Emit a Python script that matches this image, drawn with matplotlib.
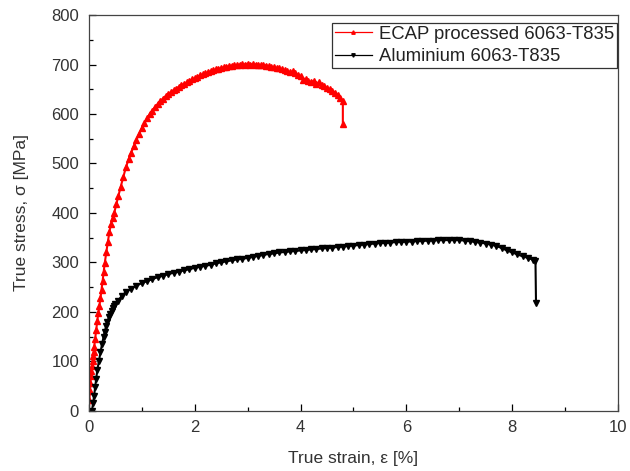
import numpy as np
import matplotlib.pyplot as plt
from matplotlib.ticker import MultipleLocator

plt.rcParams['font.family'] = ['Liberation Sans', 'DejaVu Sans']

# ECAP processed 6063-T835 (strain %, stress MPa)
ecap_strain = [0.00, 0.01, 0.02, 0.03, 0.04, 0.05, 0.06, 0.07, 0.08, 0.09, 0.10, 0.12,
               0.14, 0.16, 0.18, 0.20, 0.22, 0.24, 0.26, 0.28, 0.30, 0.33, 0.36, 0.39,
               0.42, 0.45, 0.48, 0.52, 0.56, 0.60, 0.65, 0.70, 0.75, 0.80, 0.85, 0.90,
               0.95, 1.00, 1.05, 1.10, 1.15, 1.20, 1.25, 1.30, 1.35, 1.40, 1.45, 1.50,
               1.55, 1.60, 1.65, 1.70, 1.75, 1.80, 1.85, 1.90, 1.95, 2.00, 2.05, 2.10,
               2.15, 2.20, 2.25, 2.30, 2.35, 2.40, 2.45, 2.50, 2.55, 2.60, 2.65, 2.70,
               2.75, 2.80, 2.85, 2.90, 2.95, 3.00, 3.05, 3.10, 3.15, 3.20, 3.25, 3.30,
               3.35, 3.40, 3.45, 3.50, 3.55, 3.60, 3.65, 3.70, 3.75, 3.80, 3.85, 3.90,
               3.95, 4.00, 4.05, 4.10, 4.15, 4.20, 4.25, 4.30, 4.35, 4.40, 4.45, 4.50,
               4.55, 4.60, 4.65, 4.70, 4.75, 4.80, 4.80]
ecap_stress = [0, 22, 40, 56, 70, 80, 90, 100, 110, 119, 128, 146,
               164, 182, 198, 212, 228, 245, 262, 280, 298, 320, 342, 362,
               378, 390, 400, 418, 435, 452, 472, 492, 508, 522, 535, 548,
               560, 571, 581, 591, 600, 607, 614, 620, 626, 631, 636, 640,
               644, 648, 651, 655, 658, 661, 664, 667, 670, 672, 675, 678,
               680, 682, 684, 686, 688, 690, 691, 693, 694, 695, 697, 698,
               699, 699, 700, 701, 700, 702, 700, 701, 700, 700, 699, 699,
               698, 697, 696, 694, 693, 692, 690, 688, 686, 684, 686, 682,
               679, 676, 669, 671, 667, 664, 667, 661, 664, 658, 656, 652,
               650, 647, 643, 639, 633, 626, 580]

# Aluminium 6063-T835
al_strain = [0.06, 0.08, 0.10, 0.12, 0.14, 0.16, 0.19, 0.22, 0.25, 0.28, 0.30, 0.33,
             0.35, 0.38, 0.40, 0.43, 0.45, 0.48, 0.50, 0.55, 0.62, 0.70, 0.80, 0.90,
             1.00, 1.10, 1.20, 1.30, 1.40, 1.50, 1.60, 1.70, 1.80, 1.90, 2.00, 2.10,
             2.20, 2.30, 2.40, 2.50, 2.60, 2.70, 2.80, 2.90, 3.00, 3.10, 3.20, 3.30,
             3.40, 3.50, 3.60, 3.70, 3.80, 3.90, 4.00, 4.10, 4.20, 4.30, 4.40, 4.50,
             4.60, 4.70, 4.80, 4.90, 5.00, 5.10, 5.20, 5.30, 5.40, 5.50, 5.60, 5.70,
             5.80, 5.90, 6.00, 6.10, 6.20, 6.30, 6.40, 6.50, 6.60, 6.70, 6.80, 6.90,
             7.00, 7.10, 7.20, 7.30, 7.40, 7.50, 7.60, 7.70, 7.80, 7.90, 8.00, 8.10,
             8.20, 8.30, 8.40, 8.44, 8.45]
al_stress = [0, 15, 30, 48, 65, 82, 100, 118, 135, 150, 160, 172,
             180, 189, 195, 202, 207, 212, 215, 222, 232, 240, 247, 253,
             258, 262, 266, 270, 273, 276, 279, 281, 284, 286, 289, 291,
             293, 295, 298, 300, 302, 304, 306, 307, 309, 311, 313, 315,
             317, 318, 320, 321, 322, 323, 324, 325, 326, 327, 328, 329,
             330, 331, 332, 333, 334, 335, 336, 337, 338, 339, 339, 340,
             341, 341, 342, 342, 343, 343, 344, 344, 345, 345, 345, 345,
             345, 344, 343, 341, 340, 338, 336, 333, 329, 324, 320, 316,
             312, 309, 305, 303, 218]

fig, ax = plt.subplots(figsize=(6.3, 4.71), dpi=100)
fig.subplots_adjust(left=0.141, right=0.981, top=0.968, bottom=0.128)

ax.plot(ecap_strain, ecap_stress, '-', color='red', lw=1.5, marker='^', ms=4.5,
        mec='red', mfc='red', label='ECAP processed 6063-T835')
ax.plot(al_strain, al_stress, '-', color='black', lw=1.5, marker='v', ms=4.5,
        mec='black', mfc='black', label='Aluminium 6063-T835')

ax.set_xlim(0, 10)
ax.set_ylim(0, 800)
ax.xaxis.set_major_locator(MultipleLocator(2))
ax.xaxis.set_minor_locator(MultipleLocator(1))
ax.yaxis.set_major_locator(MultipleLocator(100))
ax.yaxis.set_minor_locator(MultipleLocator(50))
ax.tick_params(which='both', direction='in', top=False, right=False,
               labelsize=12, labelcolor='#333333', width=0.9)
ax.tick_params(which='major', length=5, pad=7)
ax.tick_params(which='minor', length=3)
for s in ax.spines.values():
    s.set_linewidth(0.9)
    s.set_color('#444444')

ax.set_xlabel('True strain, ε [%]', fontsize=12.5, color='#333333', labelpad=11)
ax.set_ylabel('True stress, σ [MPa]', fontsize=12.5, color='#333333', labelpad=16)

leg = ax.legend(loc='upper right', bbox_to_anchor=(0.998, 0.98), fontsize=13.3,
                frameon=True, fancybox=False, edgecolor='black', borderaxespad=0,
                handlelength=2.0, handletextpad=0.4, borderpad=0.15,
                labelspacing=0.3, markerscale=0.55)
leg.get_frame().set_linewidth(0.9)
for t in leg.get_texts():
    t.set_color('#222222')
for ln in leg.get_lines():
    ln.set_linewidth(0.9)

fig.savefig('out.png', dpi=100)
